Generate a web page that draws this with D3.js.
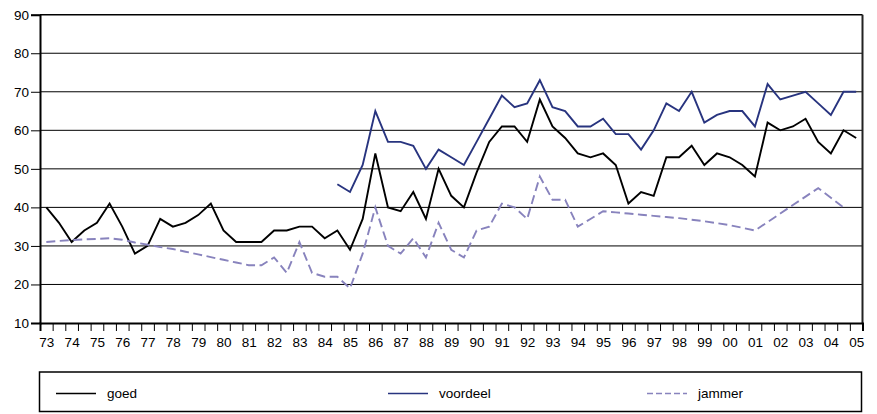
<!DOCTYPE html>
<html>
<head>
<meta charset="utf-8">
<script src="https://cdn.jsdelivr.net/npm/d3@7"></script>
<style>
  html, body { margin: 0; padding: 0; background: #fff; }
  svg { display: block; }
  text { font-family: "Liberation Sans", Arial, Helvetica, sans-serif; fill: #000; }
</style>
</head>
<body>
<svg id="chart" width="877" height="414"></svg>
<script>
// Year labels (one label per year, data are half-yearly)
const yearLabels = ["73","74","75","76","77","78","79","80","81","82","83","84","85","86","87","88","89",
  "90","91","92","93","94","95","96","97","98","99","00","01","02","03","04","05"];
// Half-year periods (65 points: 73, 73½, 74, ... 05)
const periods = d3.range(65);
const yTicks = [10,20,30,40,50,60,70,80,90];

const goed = [40,36,31,34,36,41,35,28,30,37,
  35,36,38,41,34,31,31,31,34,34,
  35,35,32,34,29,37,54,40,39,44,
  37,50,43,40,49,57,61,61,57,68,
  61,58,54,53,54,51,41,44,43,53,
  53,56,51,54,53,51,48,62,60,61,
  63,57,54,60,58];

const voordeel = [null,null,null,null,null,null,null,null,null,null,
  null,null,null,null,null,null,null,null,null,null,
  null,null,null,46,44,51,65,57,57,56,
  50,55,53,51,57,63,69,66,67,73,
  66,65,61,61,63,59,59,55,60,67,
  65,70,62,64,65,65,61,72,68,69,
  70,67,64,70,70];

const jammer = [31,31.3,31.5,31.7,31.8,32,31.6,30.9,30.3,29.7,
  29.2,28.5,27.8,27.1,26.4,25.7,25,25,27,23,
  31,23,22,22,19,28,40,30,28,32,
  27,36,29,27,34,35,41,40,37,48,
  42,42,35,37,39,38.7,38.4,38.1,37.8,37.5,
  37.2,36.8,36.4,35.9,35.4,34.7,34,36.2,38.4,40.6,
  42.8,45,42.5,40,null];

const seriesNames = ["goed","voordeel","jammer"];
const seriesColors = ["#000000","#28347f","#8883bd"];
const seriesDash = [null, null, "9,4.5"];
const seriesData = [goed, voordeel, jammer];

const svg = d3.select("#chart");
const L = 40, R = 862.5, T = 14.7, B = 323;

const x = d3.scaleLinear().domain([0, periods.length]).range([L, R]);
const y = d3.scaleLinear().domain([10, 90]).range([B, T]);

// gridlines
svg.append("g")
  .selectAll("line")
  .data(yTicks.filter(d => d > 10 && d < 90))
  .join("line")
  .attr("x1", L).attr("x2", R)
  .attr("y1", d => y(d)).attr("y2", d => y(d))
  .attr("stroke", "#000").attr("stroke-width", 1);

// top border
svg.append("line").attr("x1", L).attr("x2", R).attr("y1", y(90)).attr("y2", y(90))
  .attr("stroke", "#000").attr("stroke-width", 1.5);
// right border
svg.append("line").attr("x1", R).attr("x2", R).attr("y1", y(90)).attr("y2", y(10))
  .attr("stroke", "#222").attr("stroke-width", 2);

// y axis
const yAxis = svg.append("g").attr("transform", `translate(${L},0)`)
  .call(d3.axisLeft(y).tickValues(yTicks).tickSize(9).tickPadding(2).tickFormat(d3.format("d")));
yAxis.select(".domain").attr("stroke", "#000").attr("stroke-width", 2);
yAxis.selectAll(".tick line").attr("stroke", "#000").attr("stroke-width", 1);
yAxis.selectAll(".tick text").style("font-size", "13.5px").style("font-family", "'Liberation Sans', Arial, sans-serif").attr("fill", "#000");

// x axis: tick marks at every half-year boundary
const xAxis = svg.append("g").attr("transform", `translate(0,${B})`)
  .call(d3.axisBottom(x).tickValues(d3.range(periods.length + 1)).tickSize(8).tickFormat(""));
xAxis.select(".domain").attr("stroke", "#000").attr("stroke-width", 2);
xAxis.selectAll(".tick line").attr("stroke", "#000").attr("stroke-width", 1);

// x labels centred in each year's first half-year band
const xLab = svg.append("g").attr("transform", `translate(0,${B})`)
  .call(d3.axisBottom(x).tickValues(yearLabels.map((d, i) => i * 2 + 0.5)).tickSize(0).tickPadding(14)
    .tickFormat((d, i) => yearLabels[i]));
xLab.select(".domain").remove();
xLab.selectAll(".tick text").style("font-size", "13.5px").style("font-family", "'Liberation Sans', Arial, sans-serif").attr("fill", "#000");

// lines
const line = d3.line()
  .defined(d => d.v !== null)
  .x(d => x(d.i + 0.5))
  .y(d => y(d.v));

seriesData.forEach((arr, k) => {
  svg.append("path")
    .datum(arr.map((v, i) => ({ i: periods[i], v })))
    .attr("d", line)
    .attr("fill", "none")
    .attr("stroke", seriesColors[k])
    .attr("stroke-width", 1.9)
    .attr("stroke-linejoin", "miter")
    .attr("stroke-dasharray", seriesDash[k]);
});

// legend
const legend = svg.append("g");
legend.append("rect").attr("x", 39.5).attr("y", 372).attr("width", 822).attr("height", 39.5)
  .attr("fill", "none").attr("stroke", "#000").attr("stroke-width", 1.5);
const legX = [56, 388, 647];
seriesNames.forEach((name, k) => {
  legend.append("line")
    .attr("x1", legX[k]).attr("x2", legX[k] + 40)
    .attr("y1", 393.5).attr("y2", 393.5)
    .attr("stroke", seriesColors[k]).attr("stroke-width", 1.6)
    .attr("stroke-dasharray", k === 2 ? "6,3" : null);
  legend.append("text")
    .attr("x", legX[k] + 51).attr("y", 398)
    .style("font-size", "13.5px")
    .text(name);
});
</script>
</body>
</html>
